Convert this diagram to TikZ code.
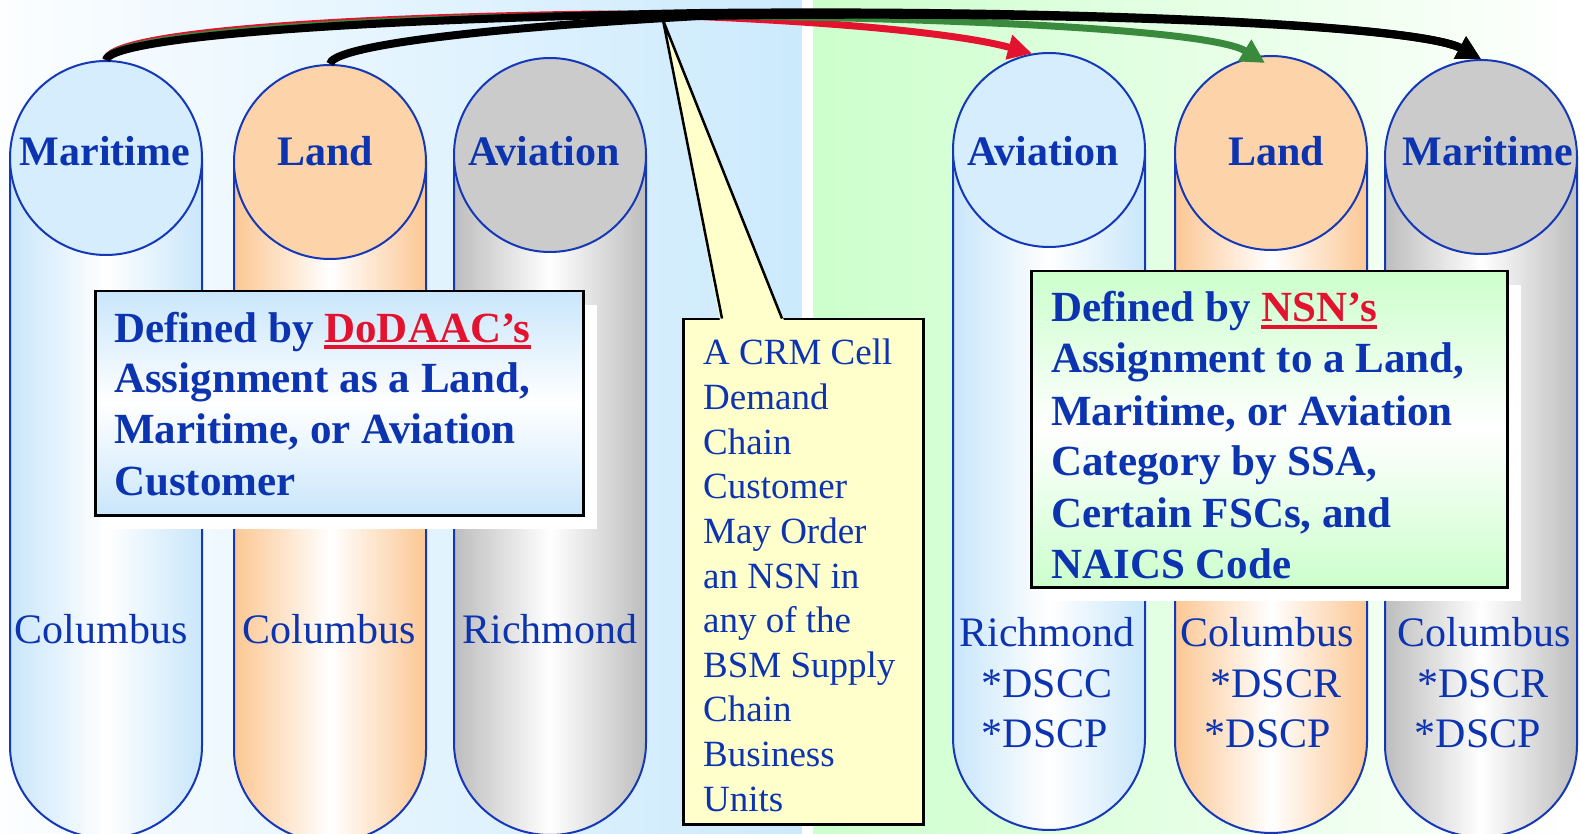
\documentclass[tikz,border=0pt]{standalone}
\usepackage{fontspec}
\setmainfont{Liberation Serif}
\usetikzlibrary{arrows.meta,shapes.geometric,calc}

\definecolor{inkblue}{HTML}{0D34B0}
\definecolor{rimblue}{HTML}{1538B8}
\definecolor{skytop}{HTML}{D5EDFD}
\definecolor{skybody}{HTML}{C9E6FB}
\definecolor{peachtop}{HTML}{FDD4AA}
\definecolor{peachbody}{HTML}{FCC793}
\definecolor{greytop}{HTML}{CBCBCB}
\definecolor{greybody}{HTML}{BDBDBD}
\definecolor{panelblue}{HTML}{CCEAFD}
\definecolor{panelgreen}{HTML}{CCFFCC}
\definecolor{notefill}{HTML}{FFFFCC}
\definecolor{linkred}{HTML}{E31330}
\definecolor{linkgreen}{HTML}{3A8A3E}

% thick underline for the highlighted words
\newcommand\ulred[1]{\setbox0=\hbox{#1}\rlap{\rule[-7pt]{\wd0}{3.5pt}}\box0}

\tikzset{
  cyltop/.style={ellipse, draw=rimblue, line width=2pt, minimum width=192pt,
    minimum height=194pt, inner sep=0pt},
  cylside/.style={draw=rimblue, line width=2pt},
  cylhead/.style={text=inkblue, font=\fontsize{42}{50}\selectfont\bfseries,
    anchor=base, inner sep=0pt},
  cylfoot/.style={text=inkblue, font=\fontsize{42}{50}\selectfont,
    anchor=base, inner sep=0pt},
  infobox/.style={draw=black, line width=2.5pt, anchor=north west, inner sep=0pt},
  boxtext/.style={text=inkblue, font=\fontsize{43}{51}\selectfont\bfseries,
    anchor=base west, inner sep=0pt},
  notetext/.style={text=inkblue, font=\fontsize{37}{44}\selectfont,
    anchor=base west, inner sep=0pt},
  link/.style={line width=7pt, -{Triangle[length=24pt,width=24pt]}},
}

% can: centre x, centre y of the top, top colour, side colour, name
\newcommand\can[5]{%
  \shade[left color=#4, right color=#4, middle color=white]
    (#1-96,#2) -- (#1-96,#2+588)
    arc[start angle=180, end angle=360, x radius=96pt, y radius=92pt]
    -- (#1+96,#2) -- cycle;
  \draw[cylside] (#1-96,#2) -- (#1-96,#2+588)
    arc[start angle=180, end angle=360, x radius=96pt, y radius=92pt]
    -- (#1+96,#2);
  \node[cyltop, fill=#3] (#5) at (#1,#2) {};
}

\begin{document}
\begin{tikzpicture}[x=1pt, y=-1pt]
\useasboundingbox (0,0) rectangle (1580,834);
\begin{scope}
\clip (0,0) rectangle (1580,834);

% two background panels
\shade[left color=white!70!panelblue!20, right color=panelblue] (0,0) rectangle (802,834);
\fill[white] (802,0) rectangle (813,834);
\shade[left color=panelgreen, right color=white] (813,0) rectangle (1580,834);

% customer side
\can{106}{158}{skytop}{skybody}{mlT}
\can{330}{162}{peachtop}{peachbody}{llT}
\can{550}{155}{greytop}{greybody}{alT}
% supply side
\can{1049}{150}{skytop}{skybody}{arT}
\can{1271}{153}{peachtop}{peachbody}{lrT}
\can{1481}{157}{greytop}{greybody}{mrT}

\node[cylhead] (mlH) at (105,166) {Maritime};
\node[cylhead] (llH) at (325,166) {Land};
\node[cylhead] (alH) at (544,166) {Aviation};
\node[cylhead] (arH) at (1043,166) {Aviation};
\node[cylhead] (lrH) at (1276,166) {Land};
\node[cylhead] (mrH) at (1488,166) {Maritime};

\node[cylfoot] (mlF) at (101,643) {Columbus};
\node[cylfoot] (llF) at (329,643) {Columbus};
\node[cylfoot] (alF) at (550,643) {Richmond};

\node[cylfoot] (arF1) at (1047,646) {Richmond};
\node[cylfoot] (arF2) at (1047,697) {*DSCC};
\node[cylfoot] (arF3) at (1045,747) {*DSCP};
\node[cylfoot] (lrF1) at (1267,646) {Columbus};
\node[cylfoot] (lrF2) at (1276,697) {*DSCR};
\node[cylfoot] (lrF3) at (1268,747) {*DSCP};
\node[cylfoot] (mrF1) at (1484,646) {Columbus};
\node[cylfoot] (mrF2) at (1483,697) {*DSCR};
\node[cylfoot] (mrF3) at (1478,747) {*DSCP};

% customer definition box
\fill[white] (109,305) rectangle (597,529);
\node[infobox, top color=skybody, bottom color=skybody, middle color=white,
  minimum width=488pt, minimum height=224pt] (dodaac) at (94,290) {};
\node[boxtext] (d1) at (114,342) {Defined by \textcolor{linkred}{\ulred{DoDAAC’s}}};
\node[boxtext] (d2) at (114,392) {Assignment as a Land,};
\node[boxtext] (d3) at (114,443) {Maritime, or Aviation};
\node[boxtext] (d4) at (114,495) {Customer};

% supply definition box
\fill[white] (1045,285) rectangle (1521,601);
\node[infobox, top color=panelgreen, bottom color=panelgreen, middle color=white,
  minimum width=476pt, minimum height=316pt] (nsn) at (1030,270) {};
\node[boxtext] (n1) at (1051,322) {Defined by \textcolor{linkred}{\ulred{NSN’s}}};
\node[boxtext] (n2) at (1051,373) {Assignment to a Land,};
\node[boxtext] (n3) at (1051,425) {Maritime, or Aviation};
\node[boxtext] (n4) at (1051,475) {Category by SSA,};
\node[boxtext] (n5) at (1051,527) {Certain FSCs, and};
\node[boxtext] (n6) at (1051,578) {NAICS Code};

% callout
\node[infobox, fill=notefill, minimum width=240pt, minimum height=505pt] (note) at (682,318) {};
\fill[notefill] (720,320.5) -- (663,20) -- (784,320.5) -- cycle;
\draw[line width=2.5pt, line join=bevel] (722,318.5) -- (663,20) -- (782,318.5);
\foreach \t [count=\i] in {A CRM Cell, Demand, Chain, Customer, May Order,
  an NSN in, any of the, BSM Supply, Chain, Business, Units}
  \node[notetext] (note\i) at (703,{365+44.6*(\i-1)}) {\t};

% links between the groups
\draw[link, linkred] (mlT.north) .. controls (108,35) and (300,18) .. (600,14)
  .. controls (720,15) and (935,27) .. (arT.100);
\draw[link, linkgreen] (mlT.north) .. controls (109,37) and (310,19) .. (620,15)
  .. controls (930,16) and (1210,29) .. ($(lrT.north)+(-6,8)$);
\draw[link, line width=8pt, black] (mlT.north) .. controls (110,39) and (320,20) .. (700,13)
  .. controls (1100,9) and (1420,26) .. (mrT.north);
\draw[link, line width=8pt, black] (llT.north) .. controls (332,48) and (450,30) .. (700,16)
  .. controls (1100,10) and (1420,26) .. (mrT.north);
\end{scope}
\end{tikzpicture}
\end{document}
